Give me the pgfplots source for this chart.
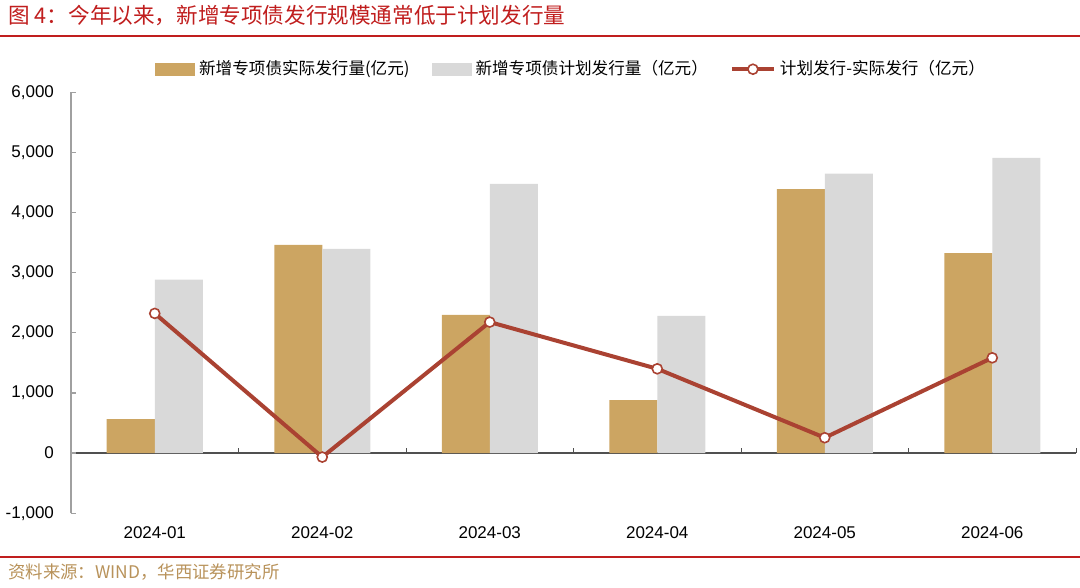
\documentclass[border=0pt]{standalone}
\usepackage{fontspec}
\setmainfont{Liberation Sans}
\newfontfamily\cjk{Noto Sans CJK SC}
\usepackage{pgfplots}
\pgfplotsset{compat=1.18}
\definecolor{cBrown}{RGB}{204,165,98}
\definecolor{cGray}{RGB}{217,217,217}
\definecolor{cLine}{RGB}{170,66,50}
\definecolor{cTitle}{RGB}{192,30,30}
\definecolor{cSrc}{RGB}{184,146,90}
\definecolor{cAxis}{RGB}{160,160,160}
\definecolor{cZero}{RGB}{80,80,80}
\begin{document}
\begin{tikzpicture}
\path[use as bounding box] (0,0) rectangle (540pt,-294pt);
\node[anchor=west, text=cTitle, font=\cjk\fontsize{10.8}{12}\selectfont, inner sep=0] at (4pt,-8pt) {图 4：今年以来，新增专项债发行规模通常低于计划发行量};
\draw[cTitle, line width=1pt] (0,-18pt) -- (540pt,-18pt);
\draw[cTitle, line width=1pt] (0,-278.3pt) -- (540pt,-278.3pt);
\node[anchor=west, text=cSrc, font=\cjk\fontsize{8.7}{11}\selectfont, inner sep=0] at (4pt,-286pt) {资料来源：WIND，华西证券研究所};
\begin{axis}[
  at={(35.5pt,-256.6pt)}, anchor=south west,
  scale only axis, width=502.5pt, height=210.5pt,
  xmin=-0.5, xmax=5.5, ymin=-1000, ymax=6000,
  axis y line=left, axis x line=bottom,
  x axis line style={draw=none},
  y axis line style={draw=cAxis, -, line width=0.6pt},
  xtick={0,...,5},
  xticklabels={2024-01,2024-02,2024-03,2024-04,2024-05,2024-06},
  xtick style={draw=none},
  ytick={-1000,0,1000,2000,3000,4000,5000,6000},
  ytick style={draw=cAxis, line width=0.6pt},
  tick align=inside, major tick length=2.5pt,
  scaled y ticks=false,
  yticklabel style={/pgf/number format/1000 sep={,}, xshift=-5pt},
  xticklabel style={yshift=-3pt},
  tick label style={font=\fontsize{8.5}{10}\selectfont},
  /pgf/number format/assume math mode=true,
  clip=false,
  legend columns=3,
  legend style={at={(0.4985,1.0546)}, anchor=center, draw=none, fill=none,
    font=\cjk\fontsize{8.3}{10}\selectfont, inner sep=0pt,
    /tikz/every even column/.append style={column sep=9pt},
    /tikz/every odd column/.append style={column sep=0pt}},
]
\draw[cZero, line width=0.6pt] (axis cs:-0.5,0) -- (axis cs:5.5,0);
\pgfplotsinvokeforeach{0.5,1.5,2.5,3.5,4.5,5.5}{
  \draw[cZero, line width=0.5pt] (axis cs:#1,0) -- ([yshift=2.5pt]axis cs:#1,0);
}
\pgfplotsinvokeforeach{-1000,0,1000,2000,3000,4000,5000,6000}{
  \draw[cAxis, line width=0.6pt] (axis cs:-0.5,#1) -- ([xshift=2.5pt]axis cs:-0.5,#1);
}
\addplot[ybar, fill=cBrown, draw=none, bar width=24pt, bar shift=-12pt,
  legend image code/.code={\fill[cBrown] (0pt,-3.2pt) rectangle (20pt,3.2pt);}]
  coordinates {(0,563) (1,3462) (2,2298) (3,880) (4,4390) (5,3326)};
\addlegendentry{新增专项债实际发行量(亿元)}
\addplot[ybar, fill=cGray, draw=none, bar width=24pt, bar shift=12pt,
  legend image code/.code={\fill[cGray] (0pt,-3.2pt) rectangle (20pt,3.2pt);}]
  coordinates {(0,2885) (1,3395) (2,4476) (3,2281) (4,4645) (5,4910)};
\addlegendentry{新增专项债计划发行量（亿元）}
\addplot[sharp plot, color=cLine, line width=2pt,
  mark=*, mark size=2.5pt, mark options={fill=white, draw=cLine, line width=0.8pt},
  legend image code/.code={\draw[cLine, line width=2pt] (0pt,0pt) -- (21pt,0pt);
    \draw[cLine, fill=white, line width=0.8pt] (10.5pt,0pt) circle (2.5pt);}]
  coordinates {(0,2322) (1,-67) (2,2178) (3,1401) (4,255) (5,1584)};
\addlegendentry{计划发行-实际发行（亿元）}
\end{axis}
\end{tikzpicture}
\end{document}
